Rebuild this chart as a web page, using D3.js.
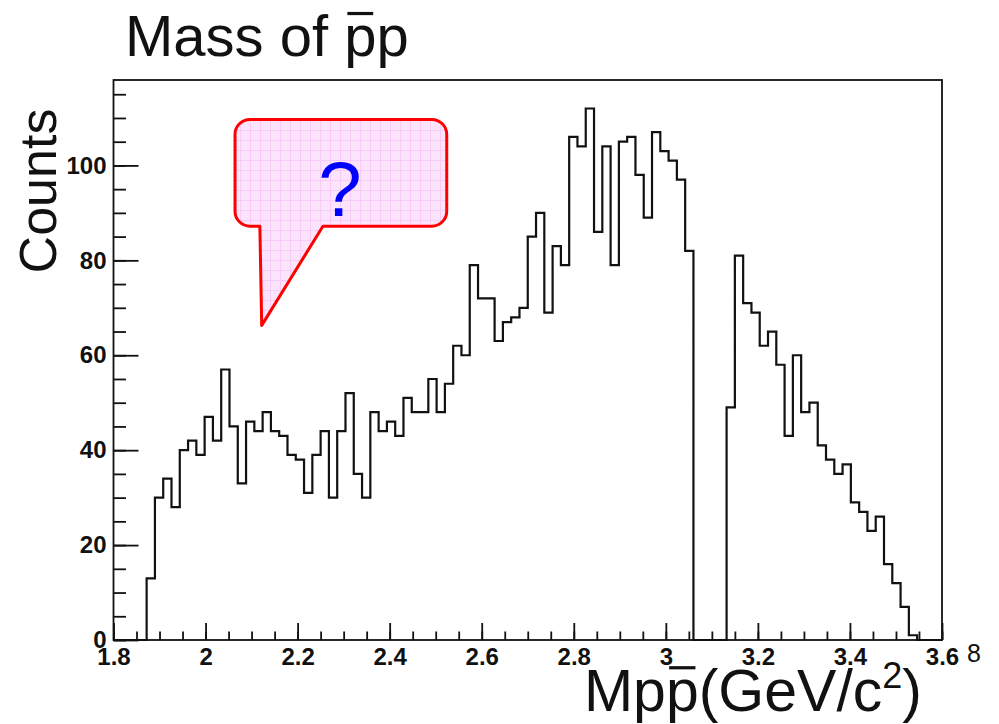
<!DOCTYPE html>
<html>
<head>
<meta charset="utf-8">
<script src="https://cdn.jsdelivr.net/npm/d3@7"></script>
<style>
  html, body { margin: 0; padding: 0; background: #fff; }
  svg { display: block; }
  text { font-family: "Liberation Sans", Arial, Helvetica, sans-serif; }
</style>
</head>
<body>
<svg id="chart" width="999" height="724"></svg>
<script>
// Histogram of the p-pbar invariant mass: 100 bins from 1.8 to 3.6 GeV/c^2
const binLow = 1.8;
const binHigh = 3.6;
const counts = [
  0, 0, 0, 0, 13, 30, 34, 28, 40, 42,
  39, 47, 42, 57, 45, 33, 46, 44, 48, 44,
  43, 39, 38, 31, 39, 44, 30, 44, 52, 35,
  30, 48, 44, 46, 43, 51, 48, 48, 55, 48,
  54, 62, 60, 79, 72, 72, 63, 67, 68, 70,
  85, 90, 69, 83, 79, 106, 104, 112, 86, 104,
  79, 105, 106, 98, 89, 107, 103, 101, 97, 82,
  0, 0, 0, 0, 49, 81, 71, 69, 62, 65,
  58, 43, 60, 48, 50, 41, 38, 35, 37, 29,
  27, 23, 26, 16, 12, 7, 1, 0, 0, 0
];
const yMax = 118;

const xMajorTicks = [1.8, 2.0, 2.2, 2.4, 2.6, 2.8, 3.0, 3.2, 3.4, 3.6];
const xTickLabels = ["1.8", "2", "2.2", "2.4", "2.6", "2.8", "3", "3.2", "3.4", "3.6"];
const xMinorTicks = d3.range(37).map(i => +(1.8 + i * 0.05).toFixed(3));
const yMajorTicks = [0, 20, 40, 60, 80, 100];
const yMinorTicks = d3.range(24).map(i => i * 5);

// Speech-bubble annotation, placed in data coordinates
const bubbleBox = { x0: 2.064, x1: 2.524, y0: 87.2, y1: 109.7 };
const bubbleTail = [[2.118, 87.2], [2.122, 66.3], [2.255, 87.2]];
const bubbleText = "?";

const svg = d3.select("#chart");
const m = { left: 113.5, right: 942, top: 80, bottom: 640 };

const x = d3.scaleLinear().domain([binLow, binHigh]).range([m.left, m.right]);
const y = d3.scaleLinear().domain([0, yMax]).range([m.bottom, m.top]);

const binWidth = (binHigh - binLow) / counts.length;
const font = '"Liberation Sans", Arial, Helvetica, sans-serif';

// Grid pattern used to fill the bubble
const defs = svg.append("defs");
const pat = defs.append("pattern")
  .attr("id", "pinkGrid")
  .attr("patternUnits", "userSpaceOnUse")
  .attr("width", 10).attr("height", 10)
  .attr("x", 0).attr("y", 0);
pat.append("rect").attr("width", 10).attr("height", 10).attr("fill", "#fde4fd");
pat.append("path").attr("d", "M0,0.5H10M0.5,0V10")
  .attr("stroke", "#f8ccf8").attr("stroke-width", 1).attr("fill", "none");

// Histogram outline
const pts = counts.map((v, i) => [binLow + i * binWidth, v]);
pts.push([binHigh, 0]);
const line = d3.line()
  .x(d => x(d[0]))
  .y(d => y(d[1]))
  .curve(d3.curveStepAfter);

svg.append("path")
  .datum(pts)
  .attr("d", line)
  .attr("fill", "none")
  .attr("stroke", "#111")
  .attr("stroke-width", 2.2)
  .attr("stroke-linejoin", "miter");

// Axes: ticks drawn inward
function styleAxis(g) {
  g.select(".domain").remove();
  g.selectAll("line").attr("stroke", "#111").attr("stroke-width", 1.8);
  g.selectAll("text")
    .attr("fill", "#111")
    .style("font-family", font)
    .style("font-weight", "bold")
    .style("font-size", "24px");
}

svg.append("g")
  .attr("transform", `translate(0,${m.bottom})`)
  .call(d3.axisBottom(x).tickValues(xMinorTicks).tickSize(-8.5).tickFormat(""))
  .call(styleAxis);

svg.append("g")
  .attr("transform", `translate(0,${m.bottom})`)
  .call(d3.axisBottom(x).tickValues(xMajorTicks).tickSize(-17).tickPadding(8)
    .tickFormat((d, i) => xTickLabels[i]))
  .call(styleAxis);

svg.append("g")
  .attr("transform", `translate(${m.left},0)`)
  .call(d3.axisLeft(y).tickValues(yMinorTicks).tickSize(-12.5).tickFormat(""))
  .call(styleAxis);

svg.append("g")
  .attr("transform", `translate(${m.left},0)`)
  .call(d3.axisLeft(y).tickValues(yMajorTicks).tickSize(-25).tickPadding(7)
    .tickFormat(d3.format("d")))
  .call(styleAxis);

// Frame
svg.append("rect")
  .attr("x", m.left).attr("y", m.top)
  .attr("width", m.right - m.left).attr("height", m.bottom - m.top)
  .attr("fill", "none").attr("stroke", "#111").attr("stroke-width", 1.8);

// Bubble
const bx0 = x(bubbleBox.x0), bx1 = x(bubbleBox.x1);
const by0 = y(bubbleBox.y1), by1 = y(bubbleBox.y0);
const r = 15;
const t0 = bubbleTail.map(p => [x(p[0]), y(p[1])]);
const bubblePath = [
  `M${bx0 + r},${by0}`,
  `H${bx1 - r}`,
  `A${r},${r} 0 0 1 ${bx1},${by0 + r}`,
  `V${by1 - r}`,
  `A${r},${r} 0 0 1 ${bx1 - r},${by1}`,
  `H${t0[2][0]}`,
  `L${t0[1][0]},${t0[1][1]}`,
  `L${t0[0][0]},${by1}`,
  `H${bx0 + r}`,
  `A${r},${r} 0 0 1 ${bx0},${by1 - r}`,
  `V${by0 + r}`,
  `A${r},${r} 0 0 1 ${bx0 + r},${by0}`,
  "Z"
].join(" ");
svg.append("path")
  .attr("d", bubblePath)
  .attr("fill", "url(#pinkGrid)")
  .attr("stroke", "#ff0000")
  .attr("stroke-width", 3)
  .attr("stroke-linejoin", "round");

svg.append("text")
  .attr("x", (bx0 + bx1) / 2 - 1)
  .attr("y", by1 - 10)
  .attr("text-anchor", "middle")
  .attr("fill", "#0000ff")
  .style("font-size", "78px")
  .text(bubbleText);

// Draws a bar over character `idx` of a text element
function overbar(textSel, idx, fontSize) {
  const node = textSel.node();
  const ext = node.getExtentOfChar(idx);
  const baseY = +textSel.attr("y");
  const inset = ext.width * 0.1;
  svg.append("rect")
    .attr("x", ext.x + inset)
    .attr("y", baseY - fontSize * 0.76)
    .attr("width", ext.width - 2 * inset)
    .attr("height", 3.2)
    .attr("fill", "#111");
}

// Title
const titleSize = 58;
const title = svg.append("text")
  .attr("x", 125).attr("y", 56)
  .attr("fill", "#111")
  .style("font-size", titleSize + "px")
  .text("Mass of pp");
overbar(title, 8, titleSize);

// X-axis title
const xtSize = 59;
const xt = svg.append("text")
  .attr("x", 922).attr("y", 711)
  .attr("text-anchor", "end")
  .attr("fill", "#111")
  .style("font-size", xtSize + "px");
xt.append("tspan").text("Mpp(GeV/c");
xt.append("tspan").attr("dy", -23).style("font-size", "36px").text("2");
xt.append("tspan").attr("dy", 23).text(")");
overbar(xt, 2, xtSize);

// Stray exponent digit at the end of the x axis
svg.append("text")
  .attr("x", 967).attr("y", 662)
  .attr("fill", "#111")
  .style("font-size", "25px")
  .text("8");

// Y-axis title
svg.append("text")
  .attr("transform", "translate(56,191) rotate(-90)")
  .attr("text-anchor", "middle")
  .attr("fill", "#111")
  .style("font-size", "52px")
  .text("Counts");
</script>
</body>
</html>
